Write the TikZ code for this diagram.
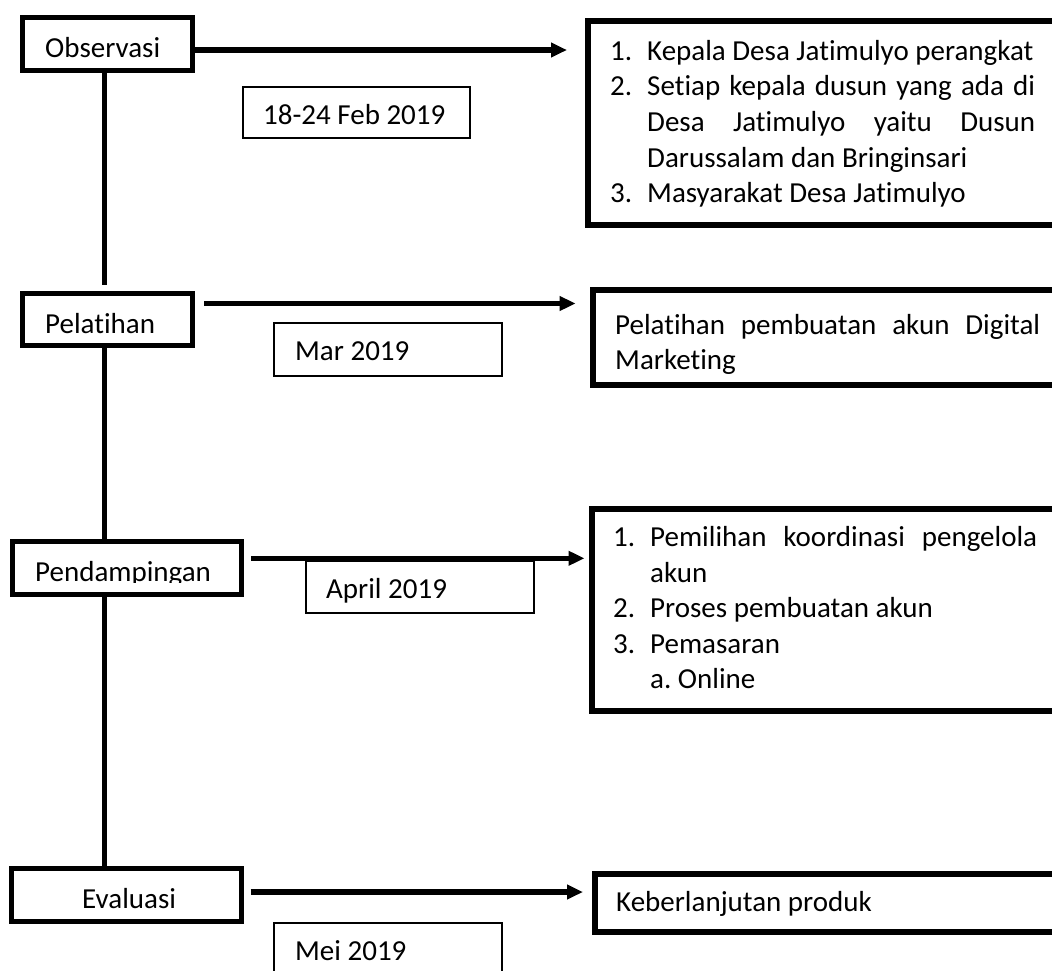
\documentclass[tikz,border=0pt]{standalone}
\usepackage{fontspec}
\setmainfont{Carlito}[Ligatures={NoCommon}]
\usetikzlibrary{arrows.meta,calc}
\frenchspacing
\begin{document}
\begin{tikzpicture}[x=1pt,y=-1pt,
  stagebox/.style={draw, line width=5pt, inner sep=0pt},
  datebox/.style={draw, line width=2pt, inner sep=0pt},
  outbox/.style={draw, line width=6pt, inner sep=0pt},
  lbl/.style={anchor=base west, inner sep=0pt, font=\fontsize{29}{35}\selectfont},
  arr/.style={line width=5.5pt, -{Triangle[length=16pt,width=14pt]}},
  tline/.style={line width=5pt}]
\useasboundingbox (0,0) rectangle (1052,970);
\clip (0,0) rectangle (1052,970);

% stage boxes
\node[stagebox, minimum width=170pt, minimum height=53pt] (obs) at (107.5,44) {};
\node[stagebox, minimum width=170pt, minimum height=52.6pt] (pel) at (107.5,319.5) {};
\node[stagebox, minimum width=229.5pt, minimum height=53.5pt] (pen) at (126.8,567.8) {};
\node[stagebox, minimum width=230pt, minimum height=53pt] (eva) at (126,895) {};

% date boxes
\node[datebox, minimum width=227pt, minimum height=51pt] (d1) at (356.5,112.5) {};
\node[datebox, minimum width=228pt, minimum height=53pt] (d2) at (388,349.2) {};
\node[datebox, minimum width=228pt, minimum height=52pt] (d3) at (420,587) {};
\node[datebox, minimum width=228pt, minimum height=53pt] (d4) at (388,949.2) {};

% output boxes
\node[outbox, minimum width=492pt, minimum height=204pt] (r1) at (834,123) {};
\node[outbox, minimum width=487pt, minimum height=95pt] (r2) at (836.5,337.5) {};
\node[outbox, minimum width=488pt, minimum height=202pt] (r3) at (836,610) {};
\node[outbox, minimum width=485pt, minimum height=58.3pt] (r4) at (837.5,902.8) {};

% stage labels
\node[lbl] (tobs) at (45,57) {Observasi};
\node[lbl] (tpel) at (45,333) {Pelatihan};
\begin{scope}
  \clip (0,530) rectangle (300,582);
  \node[lbl] (tpen) at (35,581) {Pendampingan};
\end{scope}
\node[lbl] (teva) at (82,908.5) {Evaluasi};

% date labels
\node[lbl] (td1) at (263,124) {18-24 Feb 2019};
\node[lbl] (td2) at (295,360.7) {Mar 2019};
\node[lbl] (td3) at (326,598) {April 2019};
\node[lbl] (td4) at (295,960) {Mei 2019};

% box 1 text
\node[lbl] (n11) at (610,60) {1.};
\node[lbl] (t11) at (647,60) {Kepala Desa Jatimulyo perangkat};
\node[lbl] (n12) at (610,95.7) {2.};
\node[lbl] (t12) at (647,95.7) {\makebox[388pt][s]{Setiap kepala dusun yang ada di}};
\node[lbl] (t13) at (647,131.4) {\makebox[388pt][s]{Desa Jatimulyo yaitu Dusun}};
\node[lbl] (t14) at (647,167.1) {Darussalam dan Bringinsari};
\node[lbl] (n15) at (610,202.8) {3.};
\node[lbl] (t15) at (647,202.8) {Masyarakat Desa Jatimulyo};

% box 2 text
\node[lbl] (t21) at (615,334) {\makebox[425pt][s]{Pelatihan pembuatan akun Digital}};
\node[lbl] (t22) at (615,369.5) {Marketing};

% box 3 text
\node[lbl] (n31) at (613,546.5) {1.};
\node[lbl] (t31) at (650,546.5) {\makebox[387pt][s]{Pemilihan koordinasi pengelola}};
\node[lbl] (t32) at (650,582) {akun};
\node[lbl] (n33) at (613,617.5) {2.};
\node[lbl] (t33) at (650,617.5) {Proses pembuatan akun};
\node[lbl] (n34) at (613,653) {3.};
\node[lbl] (t34) at (650,653) {Pemasaran};
\node[lbl] (t35) at (650,688.5) {a. Online};

% box 4 text
\node[lbl] (t41) at (616,911.7) {Keberlanjutan produk};

% timeline
\coordinate (sp) at (104,0);
\draw[tline] (obs.south -| sp) -- ($(pel.north -| sp)+(0,-6)$);
\draw[tline] (pel.south -| sp) -- (pen.north -| sp);
\draw[tline] (pen.south -| sp) -- (eva.north -| sp);

% arrows
\coordinate (y1) at (0,50);
\coordinate (y2) at (0,303.5);
\coordinate (y3) at (0,558.3);
\coordinate (y4) at (0,892);
\draw[arr] (obs.east |- y1) -- ($(r1.west |- y1)+(-18,0)$);
\draw[arr] ($(pel.east |- y2)+(9,0)$) -- ($(r2.west |- y2)+(-14.4,0)$);
\draw[arr] ($(pen.east |- y3)+(7,0)$) -- ($(r3.west |- y3)+(-4.5,0)$);
\draw[arr] ($(eva.east |- y4)+(7,0)$) -- ($(r4.west |- y4)+(-9,0)$);
\end{tikzpicture}
\end{document}
